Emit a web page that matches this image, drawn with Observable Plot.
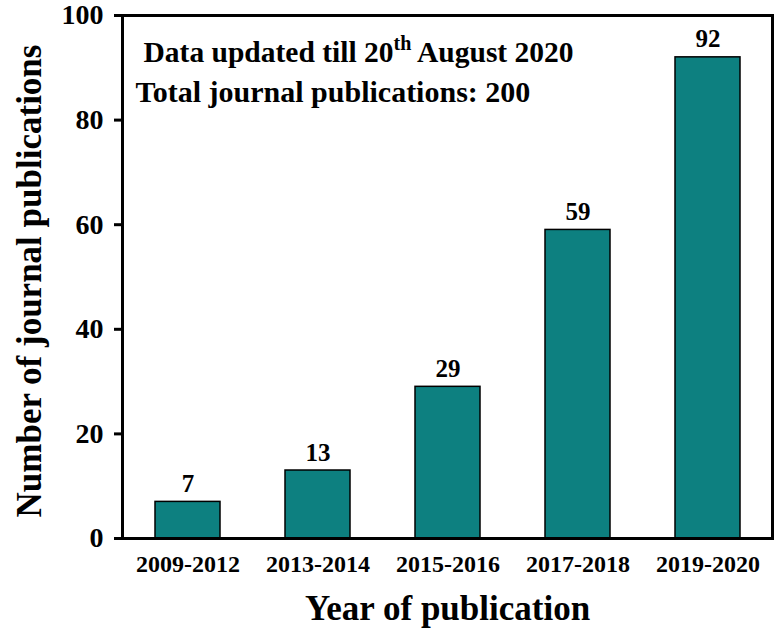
<!DOCTYPE html>
<html><head><meta charset="utf-8">
<script src="https://cdn.jsdelivr.net/npm/d3@7"></script>
<script src="https://cdn.jsdelivr.net/npm/@observablehq/plot@0.6"></script>
<style>body{margin:0;background:#fff}</style>
</head><body><div id="chart"></div>
<script>
const periods = ["2009-2012", "2013-2014", "2015-2016", "2017-2018", "2019-2020"];
const counts = [7, 13, 29, 59, 92];
const yTicks = [0, 20, 40, 60, 80, 100];
const xTitle = "Year of publication";
const yTitle = "Number of journal publications";
const noteParts = ["Data updated till 20", "th", " August 2020"];
const note2 = "Total journal publications: 200";

const data = periods.map((p, i) => ({period: p, count: counts[i]}));
const note1 = noteParts.join("");

const plot = Plot.plot({
  width: 778, height: 631,
  marginLeft: 122, marginRight: 6, marginTop: 15, marginBottom: 93,
  style: {fontFamily: "'Liberation Serif', 'Times New Roman', serif", fontWeight: "bold", background: "#fff", color: "#000"},
  x: {domain: periods, paddingInner: 0.5, paddingOuter: 0.25},
  y: {domain: [0, 100]},
  marks: [
    Plot.barY(data, {x: "period", y: "count", fill: "#0d8080", stroke: "#000", strokeWidth: 1.5}),
    Plot.text(data, {x: "period", y: "count", text: d => String(d.count), lineAnchor: "bottom", dy: -10, fontSize: 25, fill: "#000"}),
    Plot.axisX({tickSize: 0, tickPadding: 16, fontSize: 24, label: null}),
    Plot.axisY({ticks: yTicks, tickSize: 8, tickPadding: 11, fontSize: 28, strokeWidth: 3, label: null}),
    Plot.frame({strokeWidth: 3}),
    Plot.text([xTitle], {frameAnchor: "bottom", dy: 70, fontSize: 35, textAnchor: "middle", lineAnchor: "middle", fill: "#000"}),
    Plot.text([yTitle], {frameAnchor: "left", dx: -93, dy: 4, rotate: -90, fontSize: 35, textAnchor: "middle", lineAnchor: "middle", fill: "#000"}),
    Plot.text([note1], {frameAnchor: "top-left", dx: 21, dy: 37, textAnchor: "start", lineAnchor: "middle", fontSize: 29.5, fill: "#000"}),
    Plot.text([note2], {frameAnchor: "top-left", dx: 13, dy: 77, textAnchor: "start", lineAnchor: "middle", fontSize: 30, fill: "#000"})
  ]
});

d3.select(plot).selectAll("text").filter(function () { return this.textContent === note1; }).each(function () {
  const t = d3.select(this);
  t.text(null);
  t.append("tspan").text(noteParts[0]);
  t.append("tspan").text(noteParts[1]).attr("font-size", 20).attr("dy", -12);
  t.append("tspan").text(noteParts[2]).attr("dy", 12);
});

document.getElementById("chart").appendChild(plot);
</script>
</body></html>
